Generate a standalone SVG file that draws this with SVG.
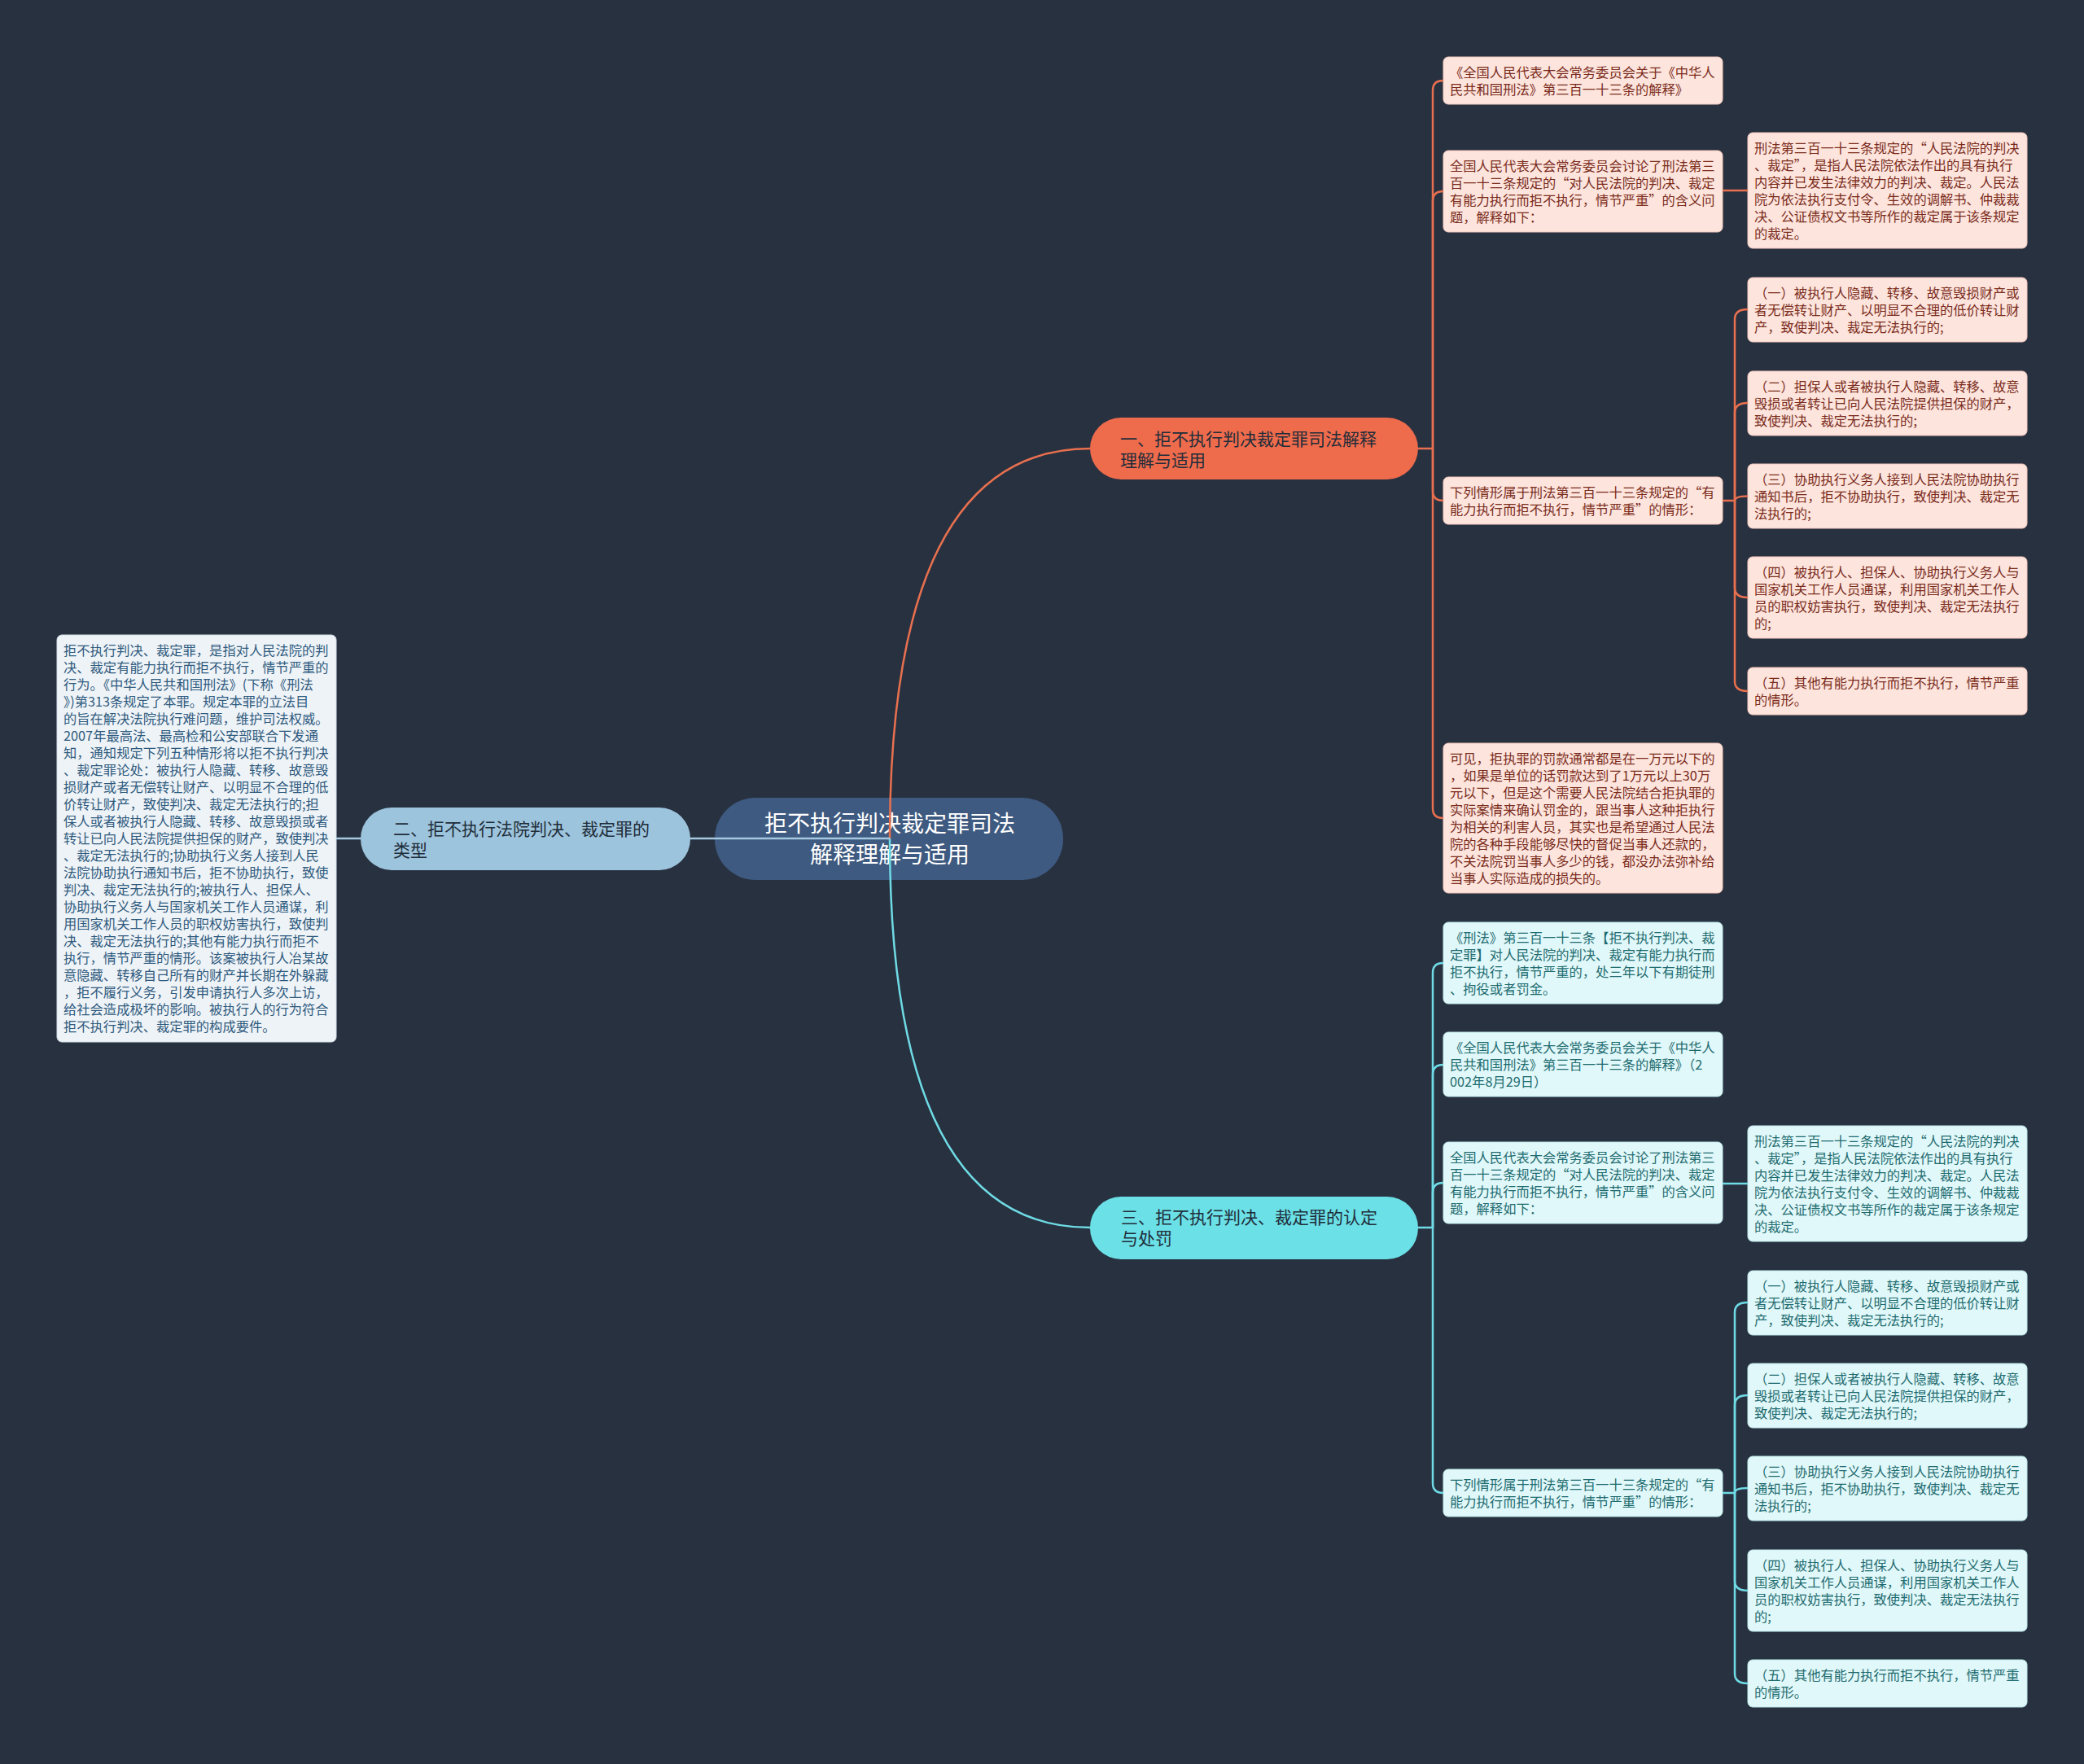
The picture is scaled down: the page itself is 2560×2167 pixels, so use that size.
<svg xmlns="http://www.w3.org/2000/svg" width="2560" height="2167" viewBox="0 0 2560 2167">
<style>
text{font-family:"Noto Sans CJK SC","Noto Sans",sans-serif;}
.leaf{font-size:16.3px;}
.o rect{fill:#fde4dc;stroke:#f3c9bd;stroke-width:1;}
.o text{fill:#7a2c1c;}
.c rect{fill:#e0f8f9;stroke:#bfe9ec;stroke-width:1;}
.c text{fill:#1f6b70;}
.l rect{fill:#eef3f7;stroke:#d3dfe8;stroke-width:1;}
.l text{fill:#2e5a7e;}
.br{font-size:21px;fill:#1f2d3a;}
.lo{fill:none;stroke:#e8704f;stroke-width:2.5;}
.lc{fill:none;stroke:#6fdbe5;stroke-width:2.5;}
.lb{fill:none;stroke:#a4c8e0;stroke-width:2.5;}
</style>
<rect x="0" y="0" width="2560" height="2167" fill="#283140"/>

<g id="central">
<rect x="878" y="980" width="428" height="101" rx="50" fill="#3e5a80"/>
<text x="1093" y="1021.5" text-anchor="middle" font-size="28" fill="#ffffff">拒不执行判决裁定罪司法</text>
<text x="1093" y="1059.5" text-anchor="middle" font-size="28" fill="#ffffff">解释理解与适用</text>
</g>

<g id="branch1">
<rect x="1339" y="513" width="403" height="76" rx="38" fill="#ee6b4c"/>
<text class="br" x="1376" y="547">一、拒不执行判决裁定罪司法解释</text>
<text class="br" x="1376" y="573">理解与适用</text>
</g>
<g id="branch2">
<rect x="443" y="992" width="405" height="77" rx="38" fill="#9dc4dd"/>
<text class="br" x="483" y="1025.5">二、拒不执行法院判决、裁定罪的</text>
<text class="br" x="483" y="1051.5">类型</text>
</g>
<g id="branch3">
<rect x="1339" y="1470" width="403" height="77" rx="38" fill="#6be0e6"/>
<text class="br" x="1377" y="1503">三、拒不执行判决、裁定罪的认定</text>
<text class="br" x="1377" y="1529">与处罚</text>
</g>

<g id="left-leaf" class="l">
<rect x="70" y="780" width="343" height="500" rx="6"/>
<text class="leaf">
<tspan x="78" y="804.5">拒不执行判决、裁定罪，是指对人民法院的判</tspan>
<tspan x="78" y="825.5">决、裁定有能力执行而拒不执行，情节严重的</tspan>
<tspan x="78" y="846.5">行为。《中华人民共和国刑法》(下称《刑法</tspan>
<tspan x="78" y="867.5">》)第313条规定了本罪。规定本罪的立法目</tspan>
<tspan x="78" y="888.5">的旨在解决法院执行难问题，维护司法权威。</tspan>
<tspan x="78" y="909.5">2007年最高法、最高检和公安部联合下发通</tspan>
<tspan x="78" y="930.5">知，通知规定下列五种情形将以拒不执行判决</tspan>
<tspan x="78" y="951.5">、裁定罪论处：被执行人隐藏、转移、故意毁</tspan>
<tspan x="78" y="972.5">损财产或者无偿转让财产、以明显不合理的低</tspan>
<tspan x="78" y="993.5">价转让财产，致使判决、裁定无法执行的;担</tspan>
<tspan x="78" y="1014.5">保人或者被执行人隐藏、转移、故意毁损或者</tspan>
<tspan x="78" y="1035.5">转让已向人民法院提供担保的财产，致使判决</tspan>
<tspan x="78" y="1056.5">、裁定无法执行的;协助执行义务人接到人民</tspan>
<tspan x="78" y="1077.5">法院协助执行通知书后，拒不协助执行，致使</tspan>
<tspan x="78" y="1098.5">判决、裁定无法执行的;被执行人、担保人、</tspan>
<tspan x="78" y="1119.5">协助执行义务人与国家机关工作人员通谋，利</tspan>
<tspan x="78" y="1140.5">用国家机关工作人员的职权妨害执行，致使判</tspan>
<tspan x="78" y="1161.5">决、裁定无法执行的;其他有能力执行而拒不</tspan>
<tspan x="78" y="1182.5">执行，情节严重的情形。该案被执行人冶某故</tspan>
<tspan x="78" y="1203.5">意隐藏、转移自己所有的财产并长期在外躲藏</tspan>
<tspan x="78" y="1224.5">，拒不履行义务，引发申请执行人多次上访，</tspan>
<tspan x="78" y="1245.5">给社会造成极坏的影响。被执行人的行为符合</tspan>
<tspan x="78" y="1266.5">拒不执行判决、裁定罪的构成要件。</tspan>
</text>
</g>

<g id="a1" class="o">
<rect x="1773" y="70" width="343" height="58" rx="6"/>
<text class="leaf"><tspan x="1781" y="94.5">《全国人民代表大会常务委员会关于《中华人</tspan><tspan x="1781" y="115.5">民共和国刑法》第三百一十三条的解释》</tspan></text>
</g>
<g id="a2" class="o">
<rect x="1773" y="185" width="343" height="100" rx="6"/>
<text class="leaf"><tspan x="1781" y="209.5">全国人民代表大会常务委员会讨论了刑法第三</tspan><tspan x="1781" y="230.5">百一十三条规定的“对人民法院的判决、裁定</tspan><tspan x="1781" y="251.5">有能力执行而拒不执行，情节严重”的含义问</tspan><tspan x="1781" y="272.5">题，解释如下：</tspan></text>
</g>
<g id="a2a" class="o">
<rect x="2147" y="163" width="343" height="142" rx="6"/>
<text class="leaf"><tspan x="2155" y="187.5">刑法第三百一十三条规定的“人民法院的判决</tspan><tspan x="2155" y="208.5">、裁定”，是指人民法院依法作出的具有执行</tspan><tspan x="2155" y="229.5">内容并已发生法律效力的判决、裁定。人民法</tspan><tspan x="2155" y="250.5">院为依法执行支付令、生效的调解书、仲裁裁</tspan><tspan x="2155" y="271.5">决、公证债权文书等所作的裁定属于该条规定</tspan><tspan x="2155" y="292.5">的裁定。</tspan></text>
</g>
<g id="a3" class="o">
<rect x="1773" y="586" width="343" height="58" rx="6"/>
<text class="leaf"><tspan x="1781" y="610.5">下列情形属于刑法第三百一十三条规定的“有</tspan><tspan x="1781" y="631.5">能力执行而拒不执行，情节严重”的情形：</tspan></text>
</g>
<g id="a3-1" class="o">
<rect x="2147" y="341" width="343" height="79" rx="6"/>
<text class="leaf"><tspan x="2155" y="365.5">（一）被执行人隐藏、转移、故意毁损财产或</tspan><tspan x="2155" y="386.5">者无偿转让财产、以明显不合理的低价转让财</tspan><tspan x="2155" y="407.5">产，致使判决、裁定无法执行的;</tspan></text>
</g>
<g id="a3-2" class="o">
<rect x="2147" y="456" width="343" height="79" rx="6"/>
<text class="leaf"><tspan x="2155" y="480.5">（二）担保人或者被执行人隐藏、转移、故意</tspan><tspan x="2155" y="501.5">毁损或者转让已向人民法院提供担保的财产，</tspan><tspan x="2155" y="522.5">致使判决、裁定无法执行的;</tspan></text>
</g>
<g id="a3-3" class="o">
<rect x="2147" y="570" width="343" height="79" rx="6"/>
<text class="leaf"><tspan x="2155" y="594.5">（三）协助执行义务人接到人民法院协助执行</tspan><tspan x="2155" y="615.5">通知书后，拒不协助执行，致使判决、裁定无</tspan><tspan x="2155" y="636.5">法执行的;</tspan></text>
</g>
<g id="a3-4" class="o">
<rect x="2147" y="684" width="343" height="100" rx="6"/>
<text class="leaf"><tspan x="2155" y="708.5">（四）被执行人、担保人、协助执行义务人与</tspan><tspan x="2155" y="729.5">国家机关工作人员通谋，利用国家机关工作人</tspan><tspan x="2155" y="750.5">员的职权妨害执行，致使判决、裁定无法执行</tspan><tspan x="2155" y="771.5">的;</tspan></text>
</g>
<g id="a3-5" class="o">
<rect x="2147" y="820" width="343" height="58" rx="6"/>
<text class="leaf"><tspan x="2155" y="844.5">（五）其他有能力执行而拒不执行，情节严重</tspan><tspan x="2155" y="865.5">的情形。</tspan></text>
</g>
<g id="a4" class="o">
<rect x="1773" y="913" width="343" height="184" rx="6"/>
<text class="leaf"><tspan x="1781" y="937.5">可见，拒执罪的罚款通常都是在一万元以下的</tspan><tspan x="1781" y="958.5">，如果是单位的话罚款达到了1万元以上30万</tspan><tspan x="1781" y="979.5">元以下，但是这个需要人民法院结合拒执罪的</tspan><tspan x="1781" y="1000.5">实际案情来确认罚金的，跟当事人这种拒执行</tspan><tspan x="1781" y="1021.5">为相关的利害人员，其实也是希望通过人民法</tspan><tspan x="1781" y="1042.5">院的各种手段能够尽快的督促当事人还款的，</tspan><tspan x="1781" y="1063.5">不关法院罚当事人多少的钱，都没办法弥补给</tspan><tspan x="1781" y="1084.5">当事人实际造成的损失的。</tspan></text>
</g>

<g id="b1" class="c">
<rect x="1773" y="1133" width="343" height="100" rx="6"/>
<text class="leaf"><tspan x="1781" y="1157.5">《刑法》第三百一十三条【拒不执行判决、裁</tspan><tspan x="1781" y="1178.5">定罪】对人民法院的判决、裁定有能力执行而</tspan><tspan x="1781" y="1199.5">拒不执行，情节严重的，处三年以下有期徒刑</tspan><tspan x="1781" y="1220.5">、拘役或者罚金。</tspan></text>
</g>
<g id="b2" class="c">
<rect x="1773" y="1268" width="343" height="79" rx="6"/>
<text class="leaf"><tspan x="1781" y="1292.5">《全国人民代表大会常务委员会关于《中华人</tspan><tspan x="1781" y="1313.5">民共和国刑法》第三百一十三条的解释》（2</tspan><tspan x="1781" y="1334.5">002年8月29日）</tspan></text>
</g>
<g id="b3" class="c">
<rect x="1773" y="1403" width="343" height="100" rx="6"/>
<text class="leaf"><tspan x="1781" y="1427.5">全国人民代表大会常务委员会讨论了刑法第三</tspan><tspan x="1781" y="1448.5">百一十三条规定的“对人民法院的判决、裁定</tspan><tspan x="1781" y="1469.5">有能力执行而拒不执行，情节严重”的含义问</tspan><tspan x="1781" y="1490.5">题，解释如下：</tspan></text>
</g>
<g id="b3a" class="c">
<rect x="2147" y="1383" width="343" height="142" rx="6"/>
<text class="leaf"><tspan x="2155" y="1407.5">刑法第三百一十三条规定的“人民法院的判决</tspan><tspan x="2155" y="1428.5">、裁定”，是指人民法院依法作出的具有执行</tspan><tspan x="2155" y="1449.5">内容并已发生法律效力的判决、裁定。人民法</tspan><tspan x="2155" y="1470.5">院为依法执行支付令、生效的调解书、仲裁裁</tspan><tspan x="2155" y="1491.5">决、公证债权文书等所作的裁定属于该条规定</tspan><tspan x="2155" y="1512.5">的裁定。</tspan></text>
</g>
<g id="b4" class="c">
<rect x="1773" y="1805" width="343" height="58" rx="6"/>
<text class="leaf"><tspan x="1781" y="1829.5">下列情形属于刑法第三百一十三条规定的“有</tspan><tspan x="1781" y="1850.5">能力执行而拒不执行，情节严重”的情形：</tspan></text>
</g>
<g id="b4-1" class="c">
<rect x="2147" y="1561" width="343" height="79" rx="6"/>
<text class="leaf"><tspan x="2155" y="1585.5">（一）被执行人隐藏、转移、故意毁损财产或</tspan><tspan x="2155" y="1606.5">者无偿转让财产、以明显不合理的低价转让财</tspan><tspan x="2155" y="1627.5">产，致使判决、裁定无法执行的;</tspan></text>
</g>
<g id="b4-2" class="c">
<rect x="2147" y="1675" width="343" height="79" rx="6"/>
<text class="leaf"><tspan x="2155" y="1699.5">（二）担保人或者被执行人隐藏、转移、故意</tspan><tspan x="2155" y="1720.5">毁损或者转让已向人民法院提供担保的财产，</tspan><tspan x="2155" y="1741.5">致使判决、裁定无法执行的;</tspan></text>
</g>
<g id="b4-3" class="c">
<rect x="2147" y="1789" width="343" height="79" rx="6"/>
<text class="leaf"><tspan x="2155" y="1813.5">（三）协助执行义务人接到人民法院协助执行</tspan><tspan x="2155" y="1834.5">通知书后，拒不协助执行，致使判决、裁定无</tspan><tspan x="2155" y="1855.5">法执行的;</tspan></text>
</g>
<g id="b4-4" class="c">
<rect x="2147" y="1904" width="343" height="100" rx="6"/>
<text class="leaf"><tspan x="2155" y="1928.5">（四）被执行人、担保人、协助执行义务人与</tspan><tspan x="2155" y="1949.5">国家机关工作人员通谋，利用国家机关工作人</tspan><tspan x="2155" y="1970.5">员的职权妨害执行，致使判决、裁定无法执行</tspan><tspan x="2155" y="1991.5">的;</tspan></text>
</g>
<g id="b4-5" class="c">
<rect x="2147" y="2039" width="343" height="58" rx="6"/>
<text class="leaf"><tspan x="2155" y="2063.5">（五）其他有能力执行而拒不执行，情节严重</tspan><tspan x="2155" y="2084.5">的情形。</tspan></text>
</g>

<g id="connectors">
<path class="lo" d="M1093,1030 Q1093,551 1339,551"/>
<path class="lc" d="M1093,1030 Q1093,1508 1339,1508"/>
<path class="lb" d="M1093,1030 H848"/>
<path class="lb" d="M443,1030 H413"/>

<path class="lo" d="M1742,551 H1760 V111 Q1760,99 1773,99"/>
<path class="lo" d="M1760,551 V247 Q1760,235 1773,235"/>
<path class="lo" d="M1760,551 V603 Q1760,615 1773,615"/>
<path class="lo" d="M1760,551 V993 Q1760,1005 1773,1005"/>
<path class="lo" d="M2116,234 H2147"/>
<path class="lo" d="M2116,615 H2131 V392 Q2131,380 2147,380"/>
<path class="lo" d="M2131,615 V507 Q2131,495 2147,495"/>
<path class="lo" d="M2131,615 Q2131,609.5 2147,609.5"/>
<path class="lo" d="M2131,615 V722 Q2131,734 2147,734"/>
<path class="lo" d="M2131,615 V837 Q2131,849 2147,849"/>

<path class="lc" d="M1742,1508 H1760 V1195 Q1760,1183 1773,1183"/>
<path class="lc" d="M1760,1508 V1320 Q1760,1308 1773,1308"/>
<path class="lc" d="M1760,1508 V1465 Q1760,1453 1773,1453"/>
<path class="lc" d="M1760,1508 V1822 Q1760,1834 1773,1834"/>
<path class="lc" d="M2116,1454 H2147"/>
<path class="lc" d="M2116,1834 H2131 V1612 Q2131,1600 2147,1600"/>
<path class="lc" d="M2131,1834 V1726 Q2131,1714 2147,1714"/>
<path class="lc" d="M2131,1834 Q2131,1828 2147,1828"/>
<path class="lc" d="M2131,1834 V1942 Q2131,1954 2147,1954"/>
<path class="lc" d="M2131,1834 V2056 Q2131,2068 2147,2068"/>
</g>
</svg>
